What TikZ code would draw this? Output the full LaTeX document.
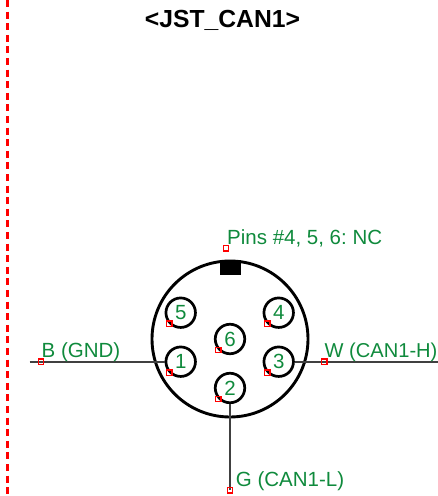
\documentclass[tikz,border=0pt]{standalone}
\usepackage{fontspec}
\setmainfont{Liberation Sans}
\frenchspacing
\definecolor{lblgreen}{HTML}{0F8A3C}
\definecolor{wiregray}{HTML}{404040}
\tikzset{
  pinhole/.style={circle,draw=black,line width=2.7pt,minimum size=29.5pt,inner sep=0pt,text=lblgreen,font=\fontsize{20.5}{21}\selectfont},
  wire/.style={draw=wiregray,line width=1.6pt},
  marker/.style={rectangle,draw=red,line width=1.2pt,minimum size=5.5pt,inner sep=0pt},
  lbl/.style={anchor=base west,inner sep=0pt,text=lblgreen,font=\fontsize{20.5}{21}\selectfont},
  ttl/.style={anchor=base,inner sep=0pt,font=\bfseries\fontsize{24.7}{26}\selectfont}
}
\begin{document}
\begin{tikzpicture}[x=1pt,y=-1pt]
\useasboundingbox (0,0) rectangle (438,496);
\draw[red,line width=3pt,dash pattern=on 7pt off 4.6pt] (7.3,0) -- (7.3,496);
\node[ttl] (title) at (222.5,27) {<JST\_CAN1>};
\node[circle,draw=black,line width=2.9pt,minimum size=156pt,inner sep=0pt] (shell) at (230,339) {};
\node[fill=black,inner sep=0pt,minimum width=20.5pt,minimum height=15pt] (key) at (230.3,267.3) {};
\node[pinhole] (p5) at (180.7,312.7) {5};
\node[pinhole] (p4) at (278.7,312.7) {4};
\node[pinhole] (p6) at (230,339) {6};
\node[pinhole] (p1) at (180.7,361.7) {1};
\node[pinhole] (p3) at (278.7,361.7) {3};
\node[pinhole] (p2) at (230,388) {2};
\coordinate (bend) at (29.5,361.7);
\coordinate (wend) at (438,361.7);
\coordinate (gend) at (230,490.3);
\draw[wire] (bend) -- (p1.west);
\draw[wire] (p3.east) -- (wend);
\draw[wire] (p2.south) -- (gend);
\node[marker] (m5) at (169.3,323.7) {};
\node[marker] (m4) at (267.3,323.7) {};
\node[marker] (m6) at (218.3,350) {};
\node[marker] (m1) at (169.3,372.7) {};
\node[marker] (m3) at (267.3,372.7) {};
\node[marker] (m2) at (218.3,399) {};
\node[marker] (mpins) at (226,248.3) {};
\node[marker] (mb) at (41,361.7) {};
\node[marker] (mw) at (324.3,361.7) {};
\node[marker] (mg) at (230,490.3) {};
\node[lbl] (lpins) at (227,244) {Pins \#4, 5, 6: NC};
\node[lbl] (lb) at (41.5,357.3) {B (GND)};
\node[lbl,font=\fontsize{20.1}{21}\selectfont] (lw) at (324.5,357.3) {W (CAN1-H)};
\node[lbl] (lg) at (235.7,486) {G (CAN1-L)};
\end{tikzpicture}
\end{document}
